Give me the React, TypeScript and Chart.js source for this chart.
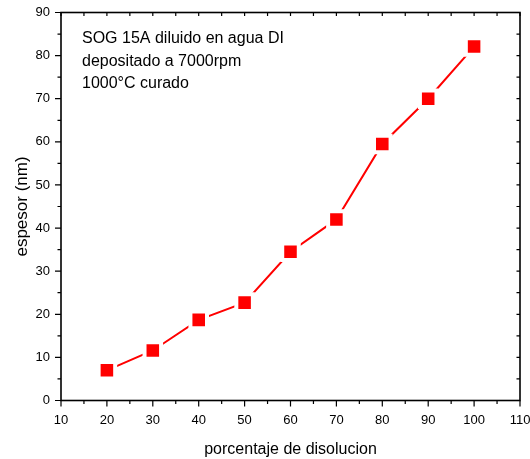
import React, { useEffect, useRef } from "react";
import { Chart, registerables } from "chart.js";

Chart.register(...registerables);

const dilution = [20, 30, 40, 50, 60, 70, 80, 90, 100];
const thickness = [7.0, 11.6, 18.7, 22.7, 34.5, 42.0, 59.5, 70.0, 82.1];
const annotationLines = ["SOG 15A diluido en agua DI", "depositado a 7000rpm", "1000°C curado"];
const xTitle = "porcentaje de disolucion";
const yTitle = "espesor (nm)";

const FONT = "'Liberation Sans', Arial, sans-serif";

const framePlugin = {
  id: "frameTicks",
  afterDraw(chart: any) {
    const { ctx, chartArea, scales } = chart;
    const { left, right, top, bottom } = chartArea;
    const xs = scales.x;
    const ys = scales.y;
    ctx.save();
    ctx.strokeStyle = "#000";
    ctx.lineWidth = 1.6;
    ctx.strokeRect(left, top, right - left, bottom - top);
    ctx.lineWidth = 1.2;
    ctx.beginPath();
    for (let v = 10; v <= 110; v += 5) {
      const px = xs.getPixelForValue(v);
      const major = v % 10 === 0;
      const out = major ? 6 : 3.5;
      ctx.moveTo(px, bottom);
      ctx.lineTo(px, bottom + out);
      ctx.moveTo(px, top);
      ctx.lineTo(px, top + 3.5);
    }
    for (let v = 0; v <= 90; v += 5) {
      const py = ys.getPixelForValue(v);
      const major = v % 10 === 0;
      const out = major ? 6 : 3.5;
      ctx.moveTo(left, py);
      ctx.lineTo(left - out, py);
      ctx.moveTo(right, py);
      ctx.lineTo(right - 3.5, py);
    }
    ctx.stroke();

    ctx.fillStyle = "#000";
    ctx.font = `16px ${FONT}`;
    ctx.textAlign = "left";
    ctx.textBaseline = "alphabetic";
    annotationLines.forEach((t, i) => {
      ctx.fillText(t, left + 21, top + 30.5 + i * 22.5);
    });
    ctx.restore();
  },
};

export default function App() {
  const ref = useRef<HTMLCanvasElement | null>(null);
  useEffect(() => {
    document.body.style.margin = "0";
    const canvas = ref.current!;
    const chart = new Chart(canvas, {
      type: "line",
      data: {
        labels: dilution,
        datasets: [
          {
            data: dilution.map((x, i) => ({ x, y: thickness[i] })),
            borderColor: "#ff0000",
            borderWidth: 2,
            backgroundColor: "#ff0000",
            pointStyle: "rect",
            pointRadius: 11.7,
            pointBackgroundColor: "#ff0000",
            pointBorderColor: "#ffffff",
            pointBorderWidth: 4,
            tension: 0,
            fill: false,
          },
        ],
      },
      options: {
        responsive: false,
        animation: false,
        devicePixelRatio: 1,
        layout: { autoPadding: false, padding: { left: 0, top: 12.5, right: 10, bottom: 0 } },
        plugins: { legend: { display: false }, tooltip: { enabled: false } },
        scales: {
          x: {
            type: "linear",
            min: 10,
            max: 110,
            border: { display: false },
            grid: { display: false, drawTicks: false },
            ticks: {
              stepSize: 10,
              color: "#000",
              font: { family: FONT, size: 13 },
              padding: 12.5,
              maxRotation: 0,
            },
            title: {
              display: true,
              text: xTitle,
              color: "#000",
              font: { family: FONT, size: 16 },
              padding: { top: 0, bottom: 0 },
            },
            afterFit(scale: any) {
              scale.height = 58.5;
              scale.paddingLeft = 0;
              scale.paddingRight = 0;
            },
          },
          y: {
            min: 0,
            max: 90,
            border: { display: false },
            grid: { display: false, drawTicks: false },
            ticks: {
              stepSize: 10,
              color: "#000",
              font: { family: FONT, size: 13 },
              padding: 11,
            },
            title: {
              display: true,
              text: yTitle,
              color: "#000",
              font: { family: FONT, size: 17 },
              padding: { top: 12, bottom: 0 },
            },
            afterFit(scale: any) {
              scale.width = 61;
              scale.paddingTop = 0;
              scale.paddingBottom = 0;
            },
          },
        },
      },
      plugins: [framePlugin],
    });
    return () => chart.destroy();
  }, []);
  return (
    <div style={{ position: "fixed", left: 0, top: 0, width: 530, height: 459, background: "#fff" }}>
      <canvas ref={ref} width={530} height={459} />
    </div>
  );
}
